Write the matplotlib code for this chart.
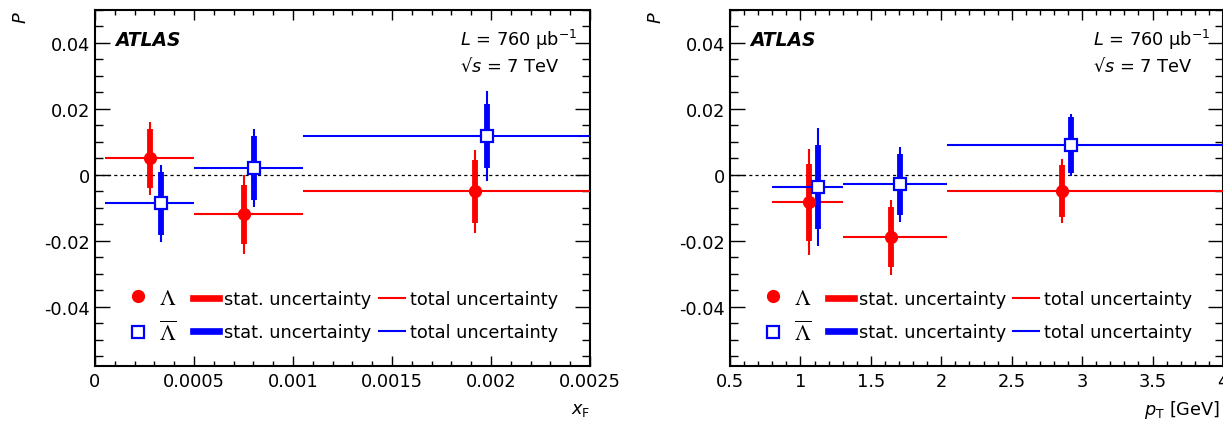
import matplotlib
matplotlib.use('Agg')
import numpy as np
import matplotlib.pyplot as plt
from matplotlib.lines import Line2D
from matplotlib.font_manager import FontProperties
from matplotlib.ticker import MultipleLocator, FuncFormatter

# ---- x_F panel ----
xf_lo = [0.00005, 0.0005, 0.00105]
xf_hi = [0.0005, 0.00105, 0.0025]
xf_lam = [0.00028, 0.00075, 0.00192]
P_xf_lam = [0.005, -0.012, -0.005]
stat_xf_lam = [0.009, 0.009, 0.0095]
tot_xf_lam = [0.011, 0.012, 0.0125]
xf_alam = [0.000335, 0.000805, 0.00198]
P_xf_alam = [-0.0087, 0.002, 0.0118]
stat_xf_alam = [0.0097, 0.0097, 0.0098]
tot_xf_alam = [0.0116, 0.0118, 0.0137]

# ---- p_T panel ----
pt_lo = [0.8, 1.3, 2.04]
pt_hi = [1.3, 2.04, 4.0]
pt_lam = [1.06, 1.645, 2.86]
P_pt_lam = [-0.0083, -0.0189, -0.0049]
stat_pt_lam = [0.0117, 0.009, 0.008]
tot_pt_lam = [0.016, 0.0114, 0.0098]
pt_alam = [1.125, 1.705, 2.92]
P_pt_alam = [-0.0038, -0.0029, 0.009]
stat_pt_alam = [0.0127, 0.0093, 0.0085]
tot_pt_alam = [0.0179, 0.0114, 0.0094]

FS = 12.8
RED = '#ff0000'
BLUE = '#0000ff'


def draw_points(ax, lo, hi, x, P, stat, tot, color, filled):
    x = np.array(x)
    xerr = [x - np.array(lo), np.array(hi) - x]
    ax.errorbar(x, P, xerr=xerr, yerr=tot, fmt='none', ecolor=color,
                elinewidth=1.5, capsize=0, zorder=3)
    ax.errorbar(x, P, yerr=stat, fmt='none', ecolor=color,
                elinewidth=4.2, capsize=0, zorder=3)
    if filled:
        ax.plot(x, P, 'o', color=color, markersize=8.5, zorder=4)
    else:
        ax.plot(x, P, 's', mfc='white', mec=color, mew=1.6,
                markersize=8, zorder=4)


def style_axes(ax, xmaj, xmin):
    ax.set_ylim(-0.058, 0.05)
    ax.axhline(0, color='k', ls=(0, (2.5, 2.5)), lw=0.9, zorder=1)
    ax.xaxis.set_major_locator(MultipleLocator(xmaj))
    ax.xaxis.set_minor_locator(MultipleLocator(xmin))
    ax.yaxis.set_major_locator(MultipleLocator(0.02))
    ax.yaxis.set_minor_locator(MultipleLocator(0.005))
    fmt = FuncFormatter(lambda v, p: '%g' % round(v, 8))
    ax.xaxis.set_major_formatter(fmt)
    ax.yaxis.set_major_formatter(fmt)
    ax.tick_params(which='both', direction='in', top=True, right=True,
                   width=1.0, labelsize=FS)
    ax.tick_params(axis='x', which='major', length=7, pad=4)
    ax.tick_params(axis='x', which='minor', length=3.5)
    ax.tick_params(axis='y', which='major', length=10.5, pad=3.5)
    ax.tick_params(axis='y', which='minor', length=5.5)
    for s in ax.spines.values():
        s.set_linewidth(1.5)

    ax.text(0.04, 0.918, 'ATLAS', transform=ax.transAxes, fontsize=13.5,
            fontweight='bold', fontstyle='italic', va='center')
    ax.text(0.737, 0.918, r'$L$ = 760 μb$^{-1}$', transform=ax.transAxes,
            fontsize=FS, va='center')
    ax.text(0.737, 0.843, '√$s$ = 7 TeV', transform=ax.transAxes,
            fontsize=FS, va='center')
    ax.text(-0.15, 1.0, '$P$', transform=ax.transAxes, fontsize=FS,
            rotation=90, ha='center', va='top')

    # legends
    h_mark = [Line2D([], [], ls='none', marker='o', color=RED, markersize=8.5),
              Line2D([], [], ls='none', marker='s', mfc='white', mec=BLUE,
                     mew=1.6, markersize=8)]
    h_stat = [Line2D([], [], color=RED, lw=4.8), Line2D([], [], color=BLUE, lw=4.8)]
    h_tot = [Line2D([], [], color=RED, lw=1.5), Line2D([], [], color=BLUE, lw=1.5)]
    common = dict(loc='center left', frameon=False, borderpad=0, borderaxespad=0,
                  handletextpad=0.3)
    lam_font = FontProperties(size=16)
    lam_font.set_math_fontfamily('stix')
    lg1 = ax.legend(h_mark, [r'$\Lambda$', r'$\overline{\Lambda}$'],
                    prop=lam_font, bbox_to_anchor=(0.057, 0.141),
                    handlelength=1.3, labelspacing=0.55, **common)
    ax.add_artist(lg1)
    lg2 = ax.legend(h_stat, ['stat. uncertainty'] * 2, fontsize=FS,
                    bbox_to_anchor=(0.198, 0.141), handlelength=1.46,
                    labelspacing=0.86, **common)
    ax.add_artist(lg2)
    ax.legend(h_tot, ['total uncertainty'] * 2, fontsize=FS,
              bbox_to_anchor=(0.574, 0.141), handlelength=1.46,
              labelspacing=0.86, **common)


fig = plt.figure(figsize=(12.23, 4.27), dpi=100)
ax1 = fig.add_axes([95 / 1223, 60 / 427, 495 / 1223, 356 / 427])
ax2 = fig.add_axes([730 / 1223, 60 / 427, 493 / 1223, 356 / 427])

draw_points(ax1, xf_lo, xf_hi, xf_lam, P_xf_lam, stat_xf_lam, tot_xf_lam, RED, True)
draw_points(ax1, xf_lo, xf_hi, xf_alam, P_xf_alam, stat_xf_alam, tot_xf_alam, BLUE, False)
ax1.set_xlim(0, 0.0025)
style_axes(ax1, 0.0005, 0.0001)
ax1.text(1.0, -0.12, r'$x_{\mathrm{F}}$', transform=ax1.transAxes,
         fontsize=FS, ha='right', va='center')

draw_points(ax2, pt_lo, pt_hi, pt_lam, P_pt_lam, stat_pt_lam, tot_pt_lam, RED, True)
draw_points(ax2, pt_lo, pt_hi, pt_alam, P_pt_alam, stat_pt_alam, tot_pt_alam, BLUE, False)
ax2.set_xlim(0.5, 4.0)
style_axes(ax2, 0.5, 0.1)
ax2.text(0.995, -0.12, r'$p_{\mathrm{T}}$ [GeV]', transform=ax2.transAxes,
         fontsize=FS, ha='right', va='center')

fig.savefig('out.png', dpi=100)
